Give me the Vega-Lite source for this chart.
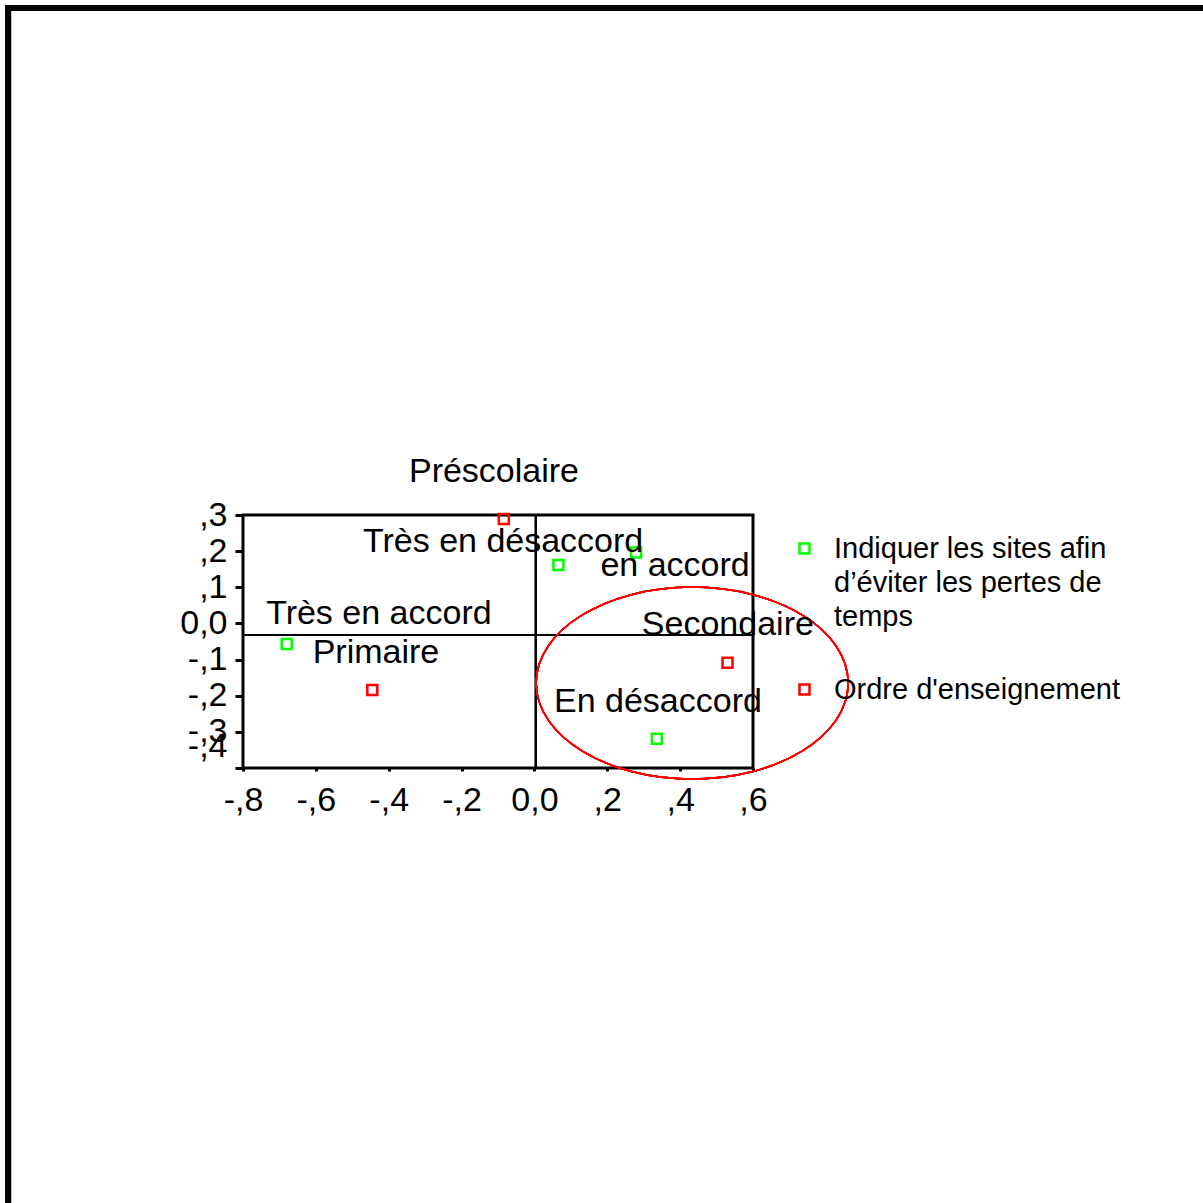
{
  "$schema": "https://vega.github.io/schema/vega-lite/v6.json",
  "width": 510,
  "height": 253,
  "autosize": {"type": "none"},
  "padding": {"left": 243, "top": 515, "right": 450, "bottom": 435},
  "background": "white",
  "config": {
    "view": {"stroke": "black", "strokeWidth": 3},
    "font": "Liberation Sans",
    "style": {"guide-label": {"lineHeight": 34, "dy": -14}},
    "axis": {"domain": false, "grid": false, "labelFont": "Liberation Sans", "labelColor": "black", "labelFontSize": 34, "tickColor": "black", "title": null}
  },
  "data": {
    "values": [
      {"group": "Ordre d'enseignement", "label": "Préscolaire", "x": -0.084, "y": 0.289, "lx": -0.111, "ly": 0.391},
      {"group": "Ordre d'enseignement", "label": "Primaire", "x": -0.445, "y": -0.184, "lx": -0.435, "ly": -0.110},
      {"group": "Ordre d'enseignement", "label": "Secondaire", "x": 0.530, "y": -0.109, "lx": 0.531, "ly": -0.032},
      {"group": "Indiquer les sites afin d’éviter les pertes de temps", "label": "Très en désaccord", "x": 0.066, "y": 0.162, "lx": -0.086, "ly": 0.198},
      {"group": "Indiquer les sites afin d’éviter les pertes de temps", "label": "en accord", "x": 0.279, "y": 0.196, "lx": 0.386, "ly": 0.131},
      {"group": "Indiquer les sites afin d’éviter les pertes de temps", "label": "Très en accord", "x": -0.680, "y": -0.057, "lx": -0.427, "ly": -0.002},
      {"group": "Indiquer les sites afin d’éviter les pertes de temps", "label": "En désaccord", "x": 0.336, "y": -0.319, "lx": 0.339, "ly": -0.245}
    ]
  },
  "layer": [
    {
      "mark": {"type": "rect", "fill": null, "fillOpacity": 0, "stroke": "black", "strokeWidth": 6},
      "encoding": {
        "x": {"datum": -1.445, "type": "quantitative", "scale": {"domain": [-0.8, 0.6], "nice": false, "zero": false}},
        "x2": {"datum": 3},
        "y": {"datum": 1.703, "type": "quantitative", "scale": {"domain": [-0.4, 0.3], "nice": false, "zero": false}},
        "y2": {"datum": -3}
      }
    },
    {
      "mark": {"type": "rule", "color": "black", "strokeWidth": 1.5},
      "encoding": {"y": {"datum": -0.032, "type": "quantitative"}}
    },
    {
      "mark": {"type": "rule", "color": "black", "strokeWidth": 2},
      "encoding": {"x": {"datum": 0.004, "type": "quantitative"}}
    },
    {
      "mark": {"type": "point", "shape": "M-1,0A1,0.615,0,1,1,1,0A1,0.615,0,1,1,-1,0Z", "size": 97344, "filled": false, "stroke": "#ff0000", "strokeWidth": 1.5, "opacity": 1},
      "encoding": {
        "x": {"datum": 0.433, "type": "quantitative"},
        "y": {"datum": -0.165, "type": "quantitative"}
      }
    },
    {
      "mark": {"type": "point", "shape": "square", "filled": false, "size": 100, "strokeWidth": 2.5, "opacity": 1},
      "encoding": {
        "x": {"field": "x", "type": "quantitative", "axis": {"values": [-0.8, -0.6, -0.4, -0.2, 0, 0.2, 0.4, 0.6], "tickCount": 20, "labelExpr": "datum.value == 0 ? '0,0' : (datum.value < 0 ? '-,' : ',') + round(abs(datum.value) * 10)", "tickSize": 3, "tickWidth": 3, "labelPadding": 26, "labelFlush": false, "labelOverlap": false}},
        "y": {"field": "y", "type": "quantitative", "axis": {"values": [-0.4, -0.3, -0.2, -0.1, 0, 0.1, 0.2, 0.3], "tickCount": 20, "labelExpr": "datum.value == 0 ? '0,0' : (datum.value < 0 ? '-,' : ',') + round(abs(datum.value) * 10)", "tickSize": 8, "tickWidth": 3, "labelPadding": 8, "labelFlush": false, "labelOverlap": false, "labelOffset": {"condition": {"test": "datum.value < -0.35", "value": -8}, "value": 14}}},
        "color": {
          "field": "group", "type": "nominal",
          "scale": {"domain": ["Indiquer les sites afin d’éviter les pertes de temps", "Ordre d'enseignement"], "range": ["#00ff00", "#ff0000"]},
          "legend": {
            "title": null, "orient": "none", "legendX": 547, "legendY": 19,
            "symbolType": "square", "symbolSize": 100, "symbolStrokeWidth": 2.5,
            "labelFont": "Liberation Sans", "labelFontSize": 29, "labelColor": "black", "labelLimit": 0, "labelOffset": 15,
            "labelBaseline": "top", "rowPadding": 43, "padding": 0,
            "labelExpr": "datum.label == 'Ordre d\\'enseignement' ? datum.label : ['Indiquer les sites afin', 'd’éviter les pertes de', 'temps']"
          }
        }
      }
    },
    {
      "mark": {"type": "text", "align": "center", "baseline": "alphabetic", "fontSize": 34, "font": "Liberation Sans", "color": "black"},
      "encoding": {
        "x": {"field": "lx", "type": "quantitative"},
        "y": {"field": "ly", "type": "quantitative"},
        "text": {"field": "label"}
      }
    }
  ]
}
